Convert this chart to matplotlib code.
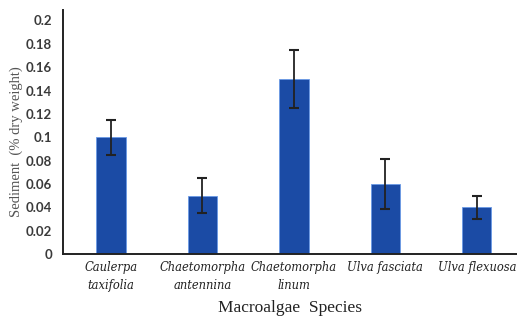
import matplotlib
matplotlib.use("Agg")
import matplotlib.pyplot as plt

# data
species = ["Caulerpa\ntaxifolia", "Chaetomorpha\nantennina", "Chaetomorpha\nlinum",
           "Ulva fasciata", "Ulva flexuosa"]
sediment = [0.10, 0.05, 0.15, 0.06, 0.04]
errors = [0.015, 0.015, 0.025, 0.021, 0.010]
yticks = [0, 0.02, 0.04, 0.06, 0.08, 0.1, 0.12, 0.14, 0.16, 0.18, 0.2]
ytick_labels = ["0", "0.02", "0.04", "0.06", "0.08", "0.1", "0.12", "0.14", "0.16", "0.18", "0.2"]

fig = plt.figure(figsize=(5.17, 3.2), dpi=100)
ax = fig.add_axes([0.122, 0.206, 0.878, 0.763])

x = list(range(len(species)))
ax.bar(x, sediment, width=0.32, color="#1b4ba5", edgecolor="#6a9ae6", linewidth=0.6,
       yerr=errors, error_kw=dict(ecolor="#222222", elinewidth=1.3, capsize=3.5, capthick=1.5))

ax.set_xlim(-0.525, 4.44)
ax.set_ylim(0, 0.209)
ax.set_yticks(yticks)
ax.set_yticklabels(ytick_labels, fontfamily="Lato", fontweight="bold", fontsize=9.5,
                   color="#3a3a3a")
ax.set_xticks(x)
ax.set_xticklabels(species, fontfamily="DejaVu Serif", fontstyle="italic", fontsize=8.3,
                   color="#222222", linespacing=1.45)
ax.tick_params(axis="both", length=0)
ax.tick_params(axis="y", pad=8)
ax.tick_params(axis="x", pad=5)

for s in ["top", "right"]:
    ax.spines[s].set_visible(False)
for s in ["left", "bottom"]:
    ax.spines[s].set_linewidth(1.4)
    ax.spines[s].set_color("#222222")

ax.set_ylabel("Sediment  (% dry weight)", fontfamily="Liberation Serif", fontsize=10.5,
              color="#555555")
ax.yaxis.set_label_coords(-0.088, 0.46)
ax.set_xlabel("Macroalgae  Species", fontfamily="Liberation Serif", fontsize=12.5,
              color="#222222", labelpad=6)

fig.savefig("out.png", dpi=100)
